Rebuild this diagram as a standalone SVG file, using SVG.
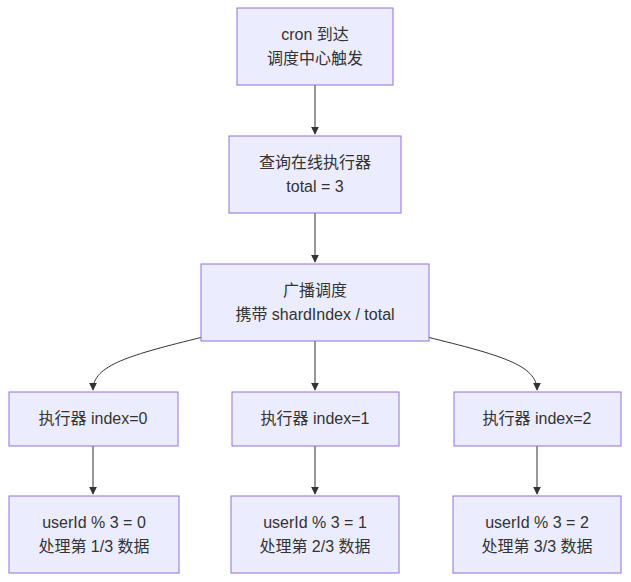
<svg xmlns="http://www.w3.org/2000/svg" width="631" height="582" viewBox="0 0 631 582">
<style>
.n{fill:#ECECFF;stroke:#9370DB;stroke-width:1}
.t{font-family:"Liberation Sans","Noto Sans CJK SC",sans-serif;font-size:16px;fill:#333;text-anchor:middle}
.e{fill:none;stroke:#333;stroke-width:1}
</style>
<defs><marker id="a" viewBox="0 0 10 10" refX="9" refY="5" markerWidth="8" markerHeight="8" orient="auto"><path d="M0,0L10,5L0,10z" fill="#333"/></marker></defs>
<rect width="631" height="582" fill="#fff"/>
<g id="connectors">
<path class="e" d="M315,85V134" marker-end="url(#a)"/>
<path class="e" d="M315,213V262" marker-end="url(#a)"/>
<path class="e" d="M315,341V390" marker-end="url(#a)"/>
<path class="e" d="M203,337C130,355 93,365 93,390" marker-end="url(#a)"/>
<path class="e" d="M427,337C500,355 537,365 537,390" marker-end="url(#a)"/>
<path class="e" d="M93,446V494" marker-end="url(#a)"/>
<path class="e" d="M315,446V494" marker-end="url(#a)"/>
<path class="e" d="M537,446V494" marker-end="url(#a)"/>
</g>
<g id="n1"><rect class="n" x="237" y="8" width="156" height="77"/><text class="t" x="315" y="40">cron 到达</text><text class="t" x="315" y="64">调度中心触发</text></g>
<g id="n2"><rect class="n" x="229" y="136" width="172" height="77"/><text class="t" x="315" y="168">查询在线执行器</text><text class="t" x="315" y="192">total = 3</text></g>
<g id="n3"><rect class="n" x="201" y="264" width="228" height="77"/><text class="t" x="315" y="296">广播调度</text><text class="t" x="315" y="320">携带 shardIndex / total</text></g>
<g id="e0"><rect class="n" x="9" y="392" width="169" height="54"/><text class="t" x="93" y="424">执行器 index=0</text></g>
<g id="e1"><rect class="n" x="232" y="392" width="167" height="54"/><text class="t" x="315" y="424">执行器 index=1</text></g>
<g id="e2"><rect class="n" x="454" y="392" width="167" height="54"/><text class="t" x="537" y="424">执行器 index=2</text></g>
<g id="d0"><rect class="n" x="9" y="496" width="170" height="77"/><text class="t" x="94" y="528">userId % 3 = 0</text><text class="t" x="94" y="552">处理第 1/3 数据</text></g>
<g id="d1"><rect class="n" x="231" y="496" width="168" height="77"/><text class="t" x="315" y="528">userId % 3 = 1</text><text class="t" x="315" y="552">处理第 2/3 数据</text></g>
<g id="d2"><rect class="n" x="453" y="496" width="168" height="77"/><text class="t" x="537" y="528">userId % 3 = 2</text><text class="t" x="537" y="552">处理第 3/3 数据</text></g>
</svg>
